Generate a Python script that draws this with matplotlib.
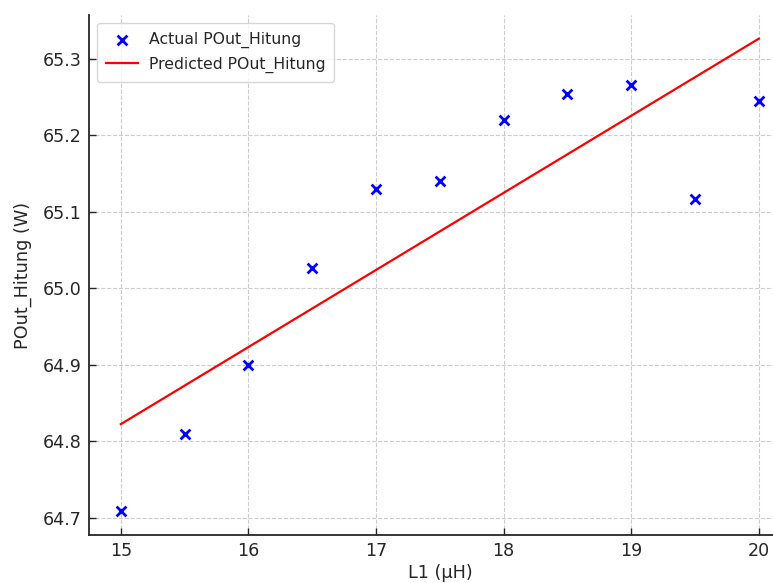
import matplotlib
matplotlib.use("Agg")
import matplotlib.pyplot as plt

# Data
l1_values = [15.0, 15.5, 16.0, 16.5, 17.0, 17.5, 18.0, 18.5, 19.0, 19.5, 20.0]
pout_actual = [64.708, 64.809, 64.899, 65.026, 65.130, 65.140, 65.219, 65.254, 65.266, 65.117, 65.244]
pred_x = [15.0, 20.0]
pred_y = [64.822, 65.326]
x_ticks = [15, 16, 17, 18, 19, 20]
y_ticks = [64.7, 64.8, 64.9, 65.0, 65.1, 65.2, 65.3]

text_color = "#262626"
plt.rcParams["font.family"] = ["DejaVu Sans"]

fig = plt.figure(figsize=(7.73, 5.83), dpi=100)
ax = fig.add_axes([0.115, 0.0823, 0.908, 0.892])

ax.scatter(l1_values, pout_actual, marker="x", color="blue", s=50, linewidths=2,
           label="Actual POut_Hitung", zorder=3)
ax.plot(pred_x, pred_y, color="red", linewidth=1.6, label="Predicted POut_Hitung", zorder=2)

ax.set_xticks(x_ticks)
ax.set_yticks(y_ticks)
ax.set_yticklabels([f"{v:.1f}" for v in y_ticks])
ax.tick_params(direction="in", length=5, width=1, labelsize=12.6, colors=text_color, pad=5)

ax.set_xlabel("L1 (μH)", fontsize=12.7, color=text_color, labelpad=3)
ax.set_ylabel("POut_Hitung (W)", fontsize=12.7, color=text_color, labelpad=8)

ax.grid(True, linestyle="--", color="#cccccc", linewidth=0.8)
ax.set_axisbelow(True)
for side in ["top", "right"]:
    ax.spines[side].set_visible(False)
for side in ["left", "bottom"]:
    ax.spines[side].set_color(text_color)
    ax.spines[side].set_linewidth(1.3)

leg = ax.legend(loc="upper left", fontsize=11.3, frameon=True, borderpad=0.6,
                handlelength=2.0, handletextpad=0.7, labelspacing=0.5)
leg.get_frame().set_edgecolor("#cccccc")
for t in leg.get_texts():
    t.set_color(text_color)

fig.savefig("out.png", dpi=100)
